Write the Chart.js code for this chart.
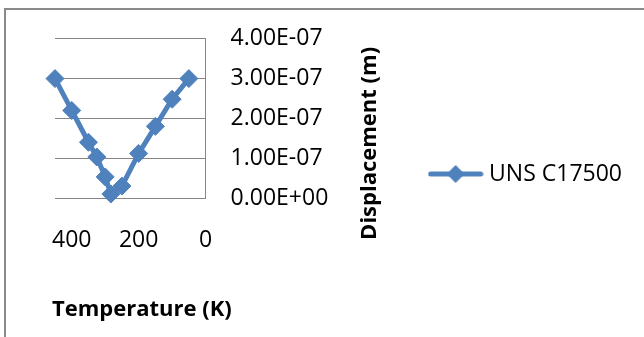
<!DOCTYPE html>
<html lang="en">
<head>
  <meta charset="UTF-8">
  <title>Displacement vs temperature</title>
  <script src="https://cdn.jsdelivr.net/npm/chart.js"></script>
  <style>
    html, body {
      margin: 0;
      padding: 0;
      background: #ffffff;
      overflow: hidden;
    }
    .frame {
      position: absolute;
      left: 4px;
      top: 8px;
      width: 700px;
      height: 400px;
      border-left: 2px solid #8a8a8a;
      border-top: 2px solid #8a8a8a;
    }
    .chart-box {
      position: absolute;
      left: 0;
      top: 0;
      width: 644px;
      height: 337px;
    }
  </style>
</head>
<body>
<div class="frame"></div>
<div class="chart-box">
  <canvas id="myChart" width="644" height="337"></canvas>
</div>

<script>
    // values
    const seriesName = 'UNS C17500';
    const temperatures = [450, 400, 350, 325, 300, 283, 250, 200, 150, 100, 50];
    const displacements = [3.0e-7, 2.2e-7, 1.4e-7, 1.03e-7, 0.53e-7, 0.1e-7, 0.3e-7, 1.12e-7, 1.8e-7, 2.48e-7, 3.0e-7];
    const xTicks = [0, 200, 400];
    const yTicks = [0, 1e-7, 2e-7, 3e-7, 4e-7];
    const xTitle = 'Temperature (K)';
    const yTitle = 'Displacement (m)';

    const blue = '#4F81BD';
    const gridGray = '#868686';
    const titleFont = "bold 22px 'Open Sans', sans-serif";

    Chart.defaults.font.family = "'Open Sans', sans-serif";
    Chart.defaults.color = '#000000';

    function excelExp(v) {
        let parts = Number(v).toExponential(2).split('e');
        let e = parseInt(parts[1], 10);
        let sign = e < 0 ? '-' : '+';
        let digits = String(Math.abs(e)).padStart(2, '0');
        return parts[0] + 'E' + sign + digits;
    }

    // legend symbol: a short line with a diamond on it
    const legendMark = document.createElement('canvas');
    legendMark.width = 56;
    legendMark.height = 22;
    (function () {
        let c = legendMark.getContext('2d');
        c.strokeStyle = blue;
        c.lineWidth = 5;
        c.lineCap = 'round';
        c.beginPath();
        c.moveTo(3, 11);
        c.lineTo(53, 11);
        c.stroke();
        c.fillStyle = blue;
        c.beginPath();
        c.moveTo(28 - 9, 11);
        c.lineTo(28, 2);
        c.lineTo(28 + 9, 11);
        c.lineTo(28, 20);
        c.closePath();
        c.fill();
    })();

    const points = temperatures.map((t, i) => ({x: t, y: displacements[i]}));

    // axis titles: the y one reads bottom-to-top, which Chart.js doesn't do on a right axis
    const axisTitles = {
        id: 'axisTitles',
        afterDraw(chart) {
            const ctx = chart.ctx;
            const area = chart.chartArea;
            ctx.save();
            ctx.font = titleFont;
            ctx.fillStyle = '#000000';
            ctx.textBaseline = 'middle';

            ctx.textAlign = 'left';
            ctx.fillText(xTitle, area.left - 3, 310);

            ctx.translate(370, (area.top + area.bottom) / 2 + 25);
            ctx.rotate(-Math.PI / 2);
            ctx.textAlign = 'center';
            ctx.fillText(yTitle, 0, 0);
            ctx.restore();
        }
    };

    const config = {
        type: 'line',
        data: {
            datasets: [{
                label: seriesName,
                data: points,
                borderColor: blue,
                backgroundColor: blue,
                borderWidth: 5,
                pointStyle: 'rectRot',
                pointRadius: 9,
                pointHoverRadius: 9,
                pointBackgroundColor: blue,
                pointBorderColor: blue,
                pointBorderWidth: 1,
                tension: 0,
                clip: false
            }]
        },
        options: {
            responsive: false,
            animation: false,
            events: [],
            layout: {
                padding: {left: 55, top: 11, right: 12, bottom: 0}
            },
            plugins: {
                tooltip: {enabled: false},
                // empty title only used as a spacer above the plot
                title: {
                    display: true,
                    text: '',
                    font: {size: 10, lineHeight: 0},
                    padding: {top: 27, bottom: 0}
                },
                legend: {
                    position: 'right',
                    maxWidth: 240,
                    labels: {
                        usePointStyle: true,
                        pointStyle: legendMark,
                        pointStyleWidth: 44,
                        padding: 10,
                        color: '#000000',
                        font: {size: 23}
                    }
                }
            },
            scales: {
                x: {
                    type: 'linear',
                    reverse: true,
                    min: 0,
                    max: 450,
                    afterBuildTicks: (scale) => {
                        scale.ticks = xTicks.map(v => ({value: v}));
                    },
                    afterFit: (scale) => {
                        scale.height = 139;
                    },
                    grid: {display: false, drawTicks: false},
                    border: {display: false},
                    ticks: {
                        padding: 29,
                        maxRotation: 0,
                        font: {size: 23},
                        color: '#000000'
                    }
                },
                y: {
                    type: 'linear',
                    position: 'right',
                    min: 0,
                    max: 4e-7,
                    afterBuildTicks: (scale) => {
                        scale.ticks = yTicks.map(v => ({value: v}));
                    },
                    afterFit: (scale) => {
                        scale.width = 218;
                    },
                    grid: {color: gridGray, lineWidth: 1, drawTicks: false},
                    border: {display: true, color: gridGray, width: 1},
                    ticks: {
                        padding: 25,
                        font: {size: 23},
                        color: '#000000',
                        callback: (v) => excelExp(v)
                    }
                }
            }
        },
        plugins: [axisTitles]
    };

    const myChart = new Chart(document.getElementById('myChart'), config);
</script>
</body>
</html>
